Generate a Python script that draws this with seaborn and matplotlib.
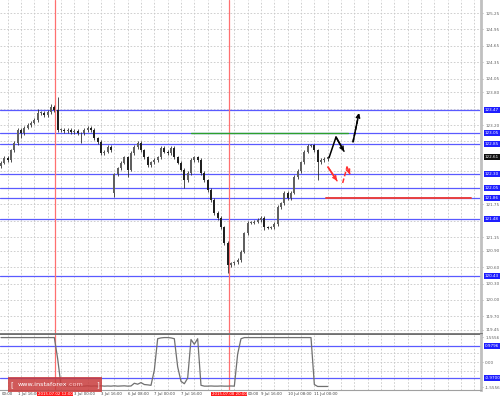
import matplotlib
matplotlib.use("Agg")
import matplotlib.pyplot as plt
import matplotlib.transforms as mtransforms
import numpy as np
import pandas as pd
import seaborn as sns

# ---------------- data ----------------
close = [122.51,122.60,122.56,122.74,122.87,123.11,123.05,123.15,123.20,123.24,
         123.29,123.42,123.42,123.38,123.44,123.53,123.47,123.11,123.11,123.09,
         123.11,123.07,123.09,123.05,123.05,123.11,123.15,123.11,122.96,122.89,
         122.69,122.71,122.80,122.74,122.30,122.41,122.51,122.61,122.38,122.69,
         122.80,122.87,122.74,122.61,122.47,122.52,122.56,122.61,122.78,122.71,
         122.69,122.78,122.61,122.51,122.38,122.19,122.32,122.56,122.61,122.56,
         122.32,122.19,122.01,121.83,121.59,121.50,121.33,121.04,120.64,120.67,
         120.69,120.73,120.88,121.22,121.41,121.41,121.43,121.46,121.50,121.33,
         121.32,121.33,121.39,121.70,121.77,121.96,121.86,121.96,122.25,122.36,
         122.52,122.71,122.82,122.83,122.74,122.52,122.56,122.58,122.61]
first_open = 122.45
gap_open = {34: 121.95}
spike_high = {11: 123.50, 15: 123.58, 17: 123.71}
spike_low = {6: 122.96, 24: 122.87, 34: 121.88, 38: 122.25, 55: 122.05,
             68: 120.49, 79: 121.28, 95: 122.19}

indicator = [1.52,1.52,1.52,1.52,1.52,1.52,1.52,1.52,1.52,1.52,
             1.52,1.52,1.52,1.52,1.52,1.52,1.52,0.20,-1.45,-1.48,
             -1.48,-1.50,-1.48,-1.50,-1.49,-1.50,-1.48,-1.50,-1.49,-1.50,
             -1.48,-1.50,-1.49,-1.50,-1.48,-1.50,-1.49,-1.48,-1.50,-1.49,
             -1.32,-1.38,-1.28,-1.40,-1.42,-1.45,-0.50,1.45,1.50,1.52,
             1.52,1.50,1.45,-0.30,-1.20,-1.35,-1.00,1.40,1.10,1.45,
             -1.45,-1.50,-1.50,-1.49,-1.50,-1.50,-1.49,-1.50,-1.50,-1.49,
             -1.50,0.50,1.45,1.52,1.52,1.52,1.52,1.52,1.52,1.52,
             1.52,1.52,1.52,1.52,1.52,1.52,1.52,1.52,1.52,1.52,
             1.52,1.52,1.52,1.52,-1.40,-1.52,-1.52,-1.52,-1.52]

bar_hours = list(range(0, 2 * len(close), 2))   # 2-hour candles

blue_levels = [123.47, 123.05, 122.85, 122.30, 122.05, 121.86, 121.48, 120.43]
current_price = 122.61
green_level = 123.05
red_level = 121.86

price_ticks = [125.25, 124.95, 124.65, 124.35, 124.05, 123.80, 123.20,
               121.75, 121.15, 120.90, 120.60, 120.30, 120.00, 119.70, 119.45]
price_grid = [125.25, 124.95, 124.65, 124.35, 124.05, 123.80, 123.50, 123.20,
              122.90, 122.60, 122.35, 122.05, 121.75, 121.45, 121.15, 120.90,
              120.60, 120.30, 120.00, 119.70, 119.45]

ind_ticks = [1.5556, 0.00, -1.5556]
ind_tick_labels = ["1.5556", "0.00", "-1.5556"]
ind_levels = [0.9796, -0.9700]
ind_level_labels = ["0.9796", "-0.9700"]

# visible time labels (the others are hidden under the red marker boxes)
time_ticks = [0.6, 10.0, 44, 60, 76, 92, 108, 147.8, 156, 172, 188]
time_labels = ["00:00", "1 Jul 16:00", "3 Jul 00:00", "3 Jul 16:00",
               "6 Jul 08:00", "7 Jul 00:00", "7 Jul 16:00", "00:00",
               "9 Jul 16:00", "10 Jul 08:00", "11 Jul 00:00"]
marker_times = [32.4, 136.8]
marker_labels = ["2015.07.02 12:00", "2015.07.08 20:00"]

# forecast arrows (hours, price)
black_path = [(196.8, 122.60), (201.0, 122.98), (205.8, 122.72)]
black_dash = [(211.2, 122.89), (214.8, 123.42)]
red_path = [(196.2, 122.43), (201.6, 122.18)]
red_path2 = [(205.0, 122.14), (207.6, 122.43), (209.4, 122.30)]

# ---------------- build OHLC ----------------
opens, highs, lows = [], [], []
for i, c in enumerate(close):
    o = first_open if i == 0 else close[i - 1]
    o = gap_open.get(i, o)
    opens.append(o)
    highs.append(spike_high.get(i, max(o, c) + 0.03))
    lows.append(spike_low.get(i, min(o, c) - 0.03))
df = pd.DataFrame({"t": bar_hours, "open": opens, "high": highs,
                   "low": lows, "close": close, "ind": indicator})

# ---------------- figure ----------------
sns.set_style("white")
plt.rcParams['font.family'] = ['DejaVu Sans']
W, H = 500, 399
fig = plt.figure(figsize=(W / 100, H / 100), dpi=100)
ax = fig.add_axes([0, 65 / H, 481 / W, 334 / H])
ax2 = fig.add_axes([0, 9 / H, 481 / W, 55 / H])

XMIN, XMAX = -0.6, 288.0
ax.set_xlim(XMIN, XMAX)
ax2.set_xlim(XMIN, XMAX)
ax.set_ylim(119.376, 125.488)
ax2.set_ylim(-1.74, 1.68)

grid_kw = dict(color="#c8c8c8", lw=0.6, ls=(0, (2, 2)), zorder=0)
for g in price_grid:
    ax.axhline(g, **grid_kw)
vgrid = np.arange(4, 288, 8)
for v in vgrid:
    ax.axvline(v, **grid_kw)
    ax2.axvline(v, **grid_kw)
for g in [0.55, 0.0, -0.55]:
    ax2.axhline(g, **grid_kw)

# level lines
for lv in blue_levels:
    ax.axhline(lv, color="#5a5aff", lw=0.9, zorder=1)
ax.plot([114, 208], [green_level, green_level], color="#2ca02c", lw=1.0, zorder=2)
ax.plot([195, 282], [red_level, red_level], color="#e84040", lw=1.4, zorder=2)

# vertical markers
for mt in marker_times:
    ax.axvline(mt, color="#ff7070", lw=0.9, zorder=1)
    ax2.axvline(mt, color="#ff7070", lw=0.9, zorder=1)

# candles
up = df["close"] >= df["open"]
ax.vlines(df["t"], df["low"], df["high"], color="#303030", lw=0.6, zorder=3)
body = (df["close"] - df["open"]).where((df["close"] - df["open"]).abs() > 0.01, 0.01)
ax.bar(df["t"], body, bottom=df["open"], width=1.3,
       color=np.where(up, "#606060", "#202020"), edgecolor="none", zorder=4)

# forecast arrows
def path_arrow(a, pts, color, ls="-"):
    xs, ys = zip(*pts)
    a.plot(xs, ys, color=color, lw=1.1, ls=ls, zorder=5)
    a.annotate("", xy=pts[-1], xytext=pts[-2],
               arrowprops=dict(arrowstyle="->", color=color, lw=1.1,
                               mutation_scale=6, shrinkA=0, shrinkB=0),
               zorder=5)

path_arrow(ax, black_path, "black")
path_arrow(ax, black_dash, "black", ls=(0, (2.5, 1.5)))
path_arrow(ax, red_path, "#ff3030")
path_arrow(ax, red_path2, "#ff3030", ls=(0, (3, 1.5)))

# indicator
sns.lineplot(data=df, x="t", y="ind", ax=ax2, color="#707070", lw=0.9, zorder=3)
for lv in ind_levels:
    ax2.axhline(lv, color="#5a5aff", lw=0.9, zorder=1)

# axes cosmetics
for a in (ax, ax2):
    a.set_xlabel("")
    a.set_ylabel("")
    a.set_xticks([])
    a.yaxis.tick_right()
    a.spines["left"].set_visible(False)
    a.spines["top"].set_visible(False)
    a.spines["right"].set_color("#c0c0c0")
    a.spines["right"].set_linewidth(2.0)
    a.tick_params(axis="y", length=1.5, width=0.5, pad=1.5, labelsize=3,
                  labelcolor="#606060", color="#909090")
ax.spines["bottom"].set_color("#707070")
ax.spines["bottom"].set_linewidth(2.0)
ax2.spines["bottom"].set_color("#a0a0a0")
ax2.spines["bottom"].set_linewidth(0.8)

ax.set_yticks(price_ticks)
ax.set_yticklabels([f"{p:.2f}" for p in price_ticks])
ax2.set_yticks(ind_ticks)
ax2.set_yticklabels(ind_tick_labels)

ytr = ax.get_yaxis_transform()
for lv in blue_levels:
    ax.text(1.008, lv, f"{lv:.2f}", transform=ytr, fontsize=3, color="white",
            va="center", ha="left", clip_on=False, zorder=10,
            bbox=dict(boxstyle="square,pad=0.25", fc="#1e1eff", ec="none"))
ax.text(1.008, current_price, f"{current_price:.2f}", transform=ytr, fontsize=3,
        color="white", va="center", ha="left", clip_on=False, zorder=11,
        bbox=dict(boxstyle="square,pad=0.25", fc="#101010", ec="none"))
ytr2 = ax2.get_yaxis_transform()
for lv, lab in zip(ind_levels, ind_level_labels):
    ax2.text(1.008, lv, lab, transform=ytr2, fontsize=3, color="white",
             va="center", ha="left", clip_on=False, zorder=10,
             bbox=dict(boxstyle="square,pad=0.25", fc="#1e1eff", ec="none"))

# time labels
xtr = mtransforms.blended_transform_factory(ax2.transData, fig.transFigure)
for t, lab in zip(time_ticks, time_labels):
    ax2.text(t, 5 / H, lab, transform=xtr, fontsize=2.8, color="#404040",
             ha="left", va="center", clip_on=False)
for t, lab in zip(marker_times, marker_labels):
    ax2.text(t, 5 / H, lab, transform=xtr, fontsize=2.8, color="white",
             ha="center", va="center", clip_on=False, zorder=10,
             bbox=dict(boxstyle="square,pad=0.12", fc="#ff1a1a", ec="none"))

# watermark
fig.patches.append(plt.Rectangle((8 / W, 7 / H), 94 / W, 15 / H,
                                 transform=fig.transFigure, fc="#c83c3c",
                                 ec="none", alpha=0.85, zorder=20))
renderer = fig.canvas.get_renderer()
yw = 14.5 / H
fig.text(10 / W, yw, "[", fontsize=5, color="white", ha="left", va="center", zorder=21)
t1 = fig.text(18 / W, yw, "www.instaforex", fontsize=4.6, color="white",
              ha="left", va="center", zorder=21)
x_end = t1.get_window_extent(renderer).x1
fig.text(x_end / W, yw, ".com", fontsize=4.6, color="#ffc8c8",
         ha="left", va="center", zorder=21)
fig.text(96 / W, yw, "]", fontsize=5, color="white", ha="left", va="center", zorder=21)

fig.savefig("out.png", dpi=100, facecolor="white")
